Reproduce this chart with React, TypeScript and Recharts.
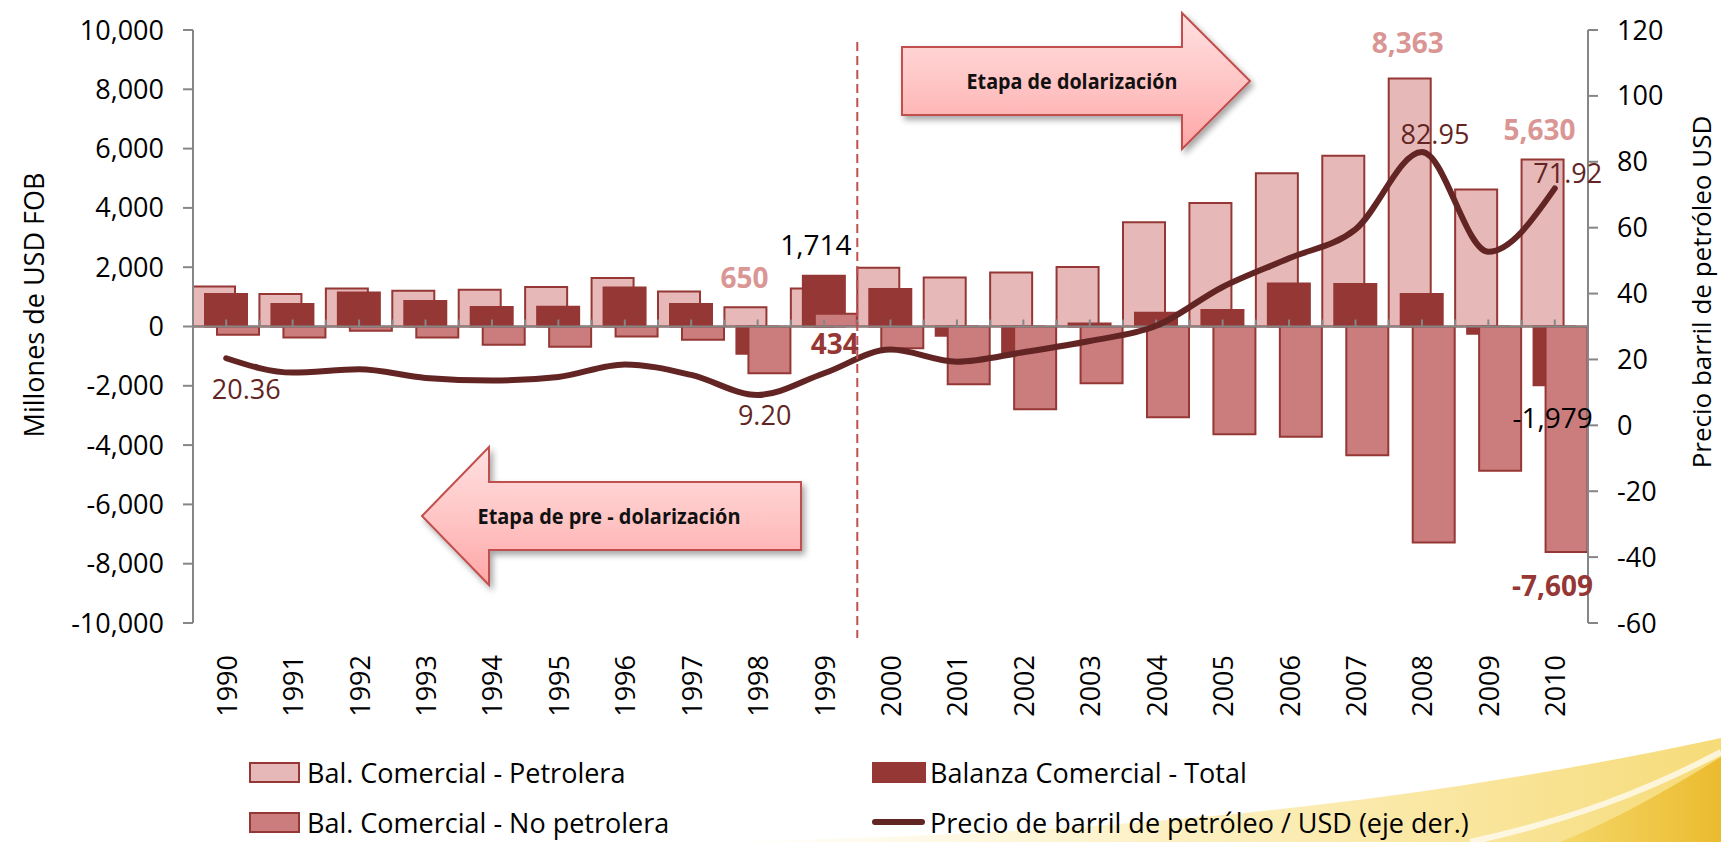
import React from 'react';
import { ComposedChart, Bar, Line, XAxis, YAxis, ReferenceLine, LabelList } from 'recharts';

// ---------- data ----------
const years = ['1990', '1991', '1992', '1993', '1994', '1995', '1996', '1997', '1998', '1999', '2000',
  '2001', '2002', '2003', '2004', '2005', '2006', '2007', '2008', '2009', '2010'];
const petrolera = [1350, 1100, 1284, 1206, 1240, 1331, 1635, 1182, 650, 1280, 1983,
  1655, 1824, 2007, 3514, 4169, 5169, 5757, 8363, 4618, 5630];
const balanzaTotal = [1095, 757, 1149, 858, 655, 666, 1318, 757, -922, 1714, 1264,
  -314, -899, 101, 463, 554, 1453, 1432, 1095, -247, -1979];
const noPetrolera = [-280, -370, -145, -370, -618, -680, -338, -449, -1574, 434, -730,
  -1946, -2791, -1912, -3061, -3635, -3716, -4345, -7284, -4865, -7609];
const oilPrice = [20.36, 16.0, 17.0, 14.4, 13.6, 14.7, 18.5, 15.3, 9.2, 15.8, 23.0,
  19.3, 22.2, 25.6, 30.2, 42.0, 50.7, 59.5, 82.95, 52.7, 71.92];
const leftTicks = [-10000, -8000, -6000, -4000, -2000, 0, 2000, 4000, 6000, 8000, 10000];
const rightTicks = [-60, -40, -20, 0, 20, 40, 60, 80, 100, 120];

const petroleraLabelYears = ['1998', '2008', '2010'];
const totalLabelYears = ['1999', '2010'];
const noPetroleraLabelYears = ['1999', '2010'];
const oilLabelYears = ['1990', '1998', '2008', '2010'];

const seriesNames = {
  petrolera: 'Bal. Comercial - Petrolera',
  total: 'Balanza Comercial - Total',
  noPetrolera: 'Bal. Comercial - No petrolera',
  oil: 'Precio de barril de petróleo / USD (eje der.)',
};

const data = years.map((year, i) => ({
  year,
  petrolera: petrolera[i],
  total: balanzaTotal[i],
  noPetrolera: noPetrolera[i],
  oil: oilPrice[i],
  lblPet: petroleraLabelYears.includes(year) ? year : undefined,
  lblTot: totalLabelYears.includes(year) ? year : undefined,
  lblNoPet: noPetroleraLabelYears.includes(year) ? year : undefined,
  lblOil: oilLabelYears.includes(year) ? year : undefined,
}));

// ---------- styles ----------
const FONT = "'Open Sans', 'Noto Sans', sans-serif";
const W = 1721;
const H = 842;
const PLOT_LEFT = 193;
const PLOT_RIGHT = 1588;
const PLOT_TOP = 30;
const PLOT_BOTTOM = 623;
const X_AXIS_H = 120;
const AXIS_GRAY = '#868686';
const C_PET = '#E6B9B8';
const C_TOT = '#953735';
const C_NOPET = '#CA7D7C';
const C_EDGE = '#953735';
const C_OIL = '#632523';

const fmtInt = (v: number) => v.toLocaleString('en-US');

type Spec = { anchor: 'top' | 'bottom' | 'point'; dx: number; dy: number; color: string; bold?: boolean; size: number };

const petSpecs: Record<string, Spec> = {
  '1998': { anchor: 'top', dx: -1, dy: -30, color: '#DA9694', bold: true, size: 28 },
  '2008': { anchor: 'top', dx: -2, dy: -37, color: '#DA9694', bold: true, size: 28 },
  '2010': { anchor: 'top', dx: -3, dy: -31, color: '#DA9694', bold: true, size: 28 },
};
const totSpecs: Record<string, Spec> = {
  '1999': { anchor: 'top', dx: -8, dy: -32, color: '#000000', size: 28 },
  '2010': { anchor: 'bottom', dx: -2, dy: 32, color: '#000000', size: 28 },
};
const noPetSpecs: Record<string, Spec> = {
  '1999': { anchor: 'bottom', dx: -1, dy: 16, color: '#953735', bold: true, size: 28 },
  '2010': { anchor: 'bottom', dx: -14, dy: 33, color: '#953735', bold: true, size: 28 },
};
const oilSpecs: Record<string, Spec> = {
  '1990': { anchor: 'point', dx: 20, dy: 30, color: C_OIL, size: 27 },
  '1998': { anchor: 'point', dx: 7, dy: 19, color: C_OIL, size: 27 },
  '2008': { anchor: 'point', dx: 13, dy: -19, color: C_OIL, size: 27 },
  '2010': { anchor: 'point', dx: 13, dy: -16, color: C_OIL, size: 27 },
};

const makeLabel = (specs: Record<string, Spec>, values: number[], fmt: (v: number) => string) => (props: any) => {
  const { x, y, width, height, value } = props;
  if (value == null) return null;
  const spec = specs[String(value)];
  if (!spec) return null;
  const idx = years.indexOf(String(value));
  const w = Number(width) || 0;
  const h = Number(height) || 0;
  const top = Math.min(Number(y), Number(y) + h);
  const bottom = Math.max(Number(y), Number(y) + h);
  const cx = Number(x) + w / 2;
  const baseY = spec.anchor === 'top' ? top : spec.anchor === 'bottom' ? bottom : Number(y);
  return (
    <text x={cx + spec.dx} y={baseY + spec.dy} textAnchor="middle" dominantBaseline="central"
      fontFamily={FONT} fontSize={spec.size} fontWeight={spec.bold ? 700 : 400} fill={spec.color}>
      {fmt(values[idx])}
    </text>
  );
};

const YearTick = (props: any) => {
  const { x, y, payload } = props;
  return (
    <text x={x} y={y} transform={`rotate(-90, ${x}, ${y})`} textAnchor="end" dominantBaseline="central"
      fontSize={27} fill="#000" fontFamily={FONT}>
      {payload.value}
    </text>
  );
};

const ZeroAxis = (props: any) => {
  const { x1, y1, x2, y2 } = props;
  const n = years.length * 2;
  const step = (x2 - x1) / n;
  const marks = [];
  for (let k = 1; k < n; k++) {
    const mx = x1 + k * step;
    marks.push(<line key={k} x1={mx} x2={mx} y1={y1 - 7} y2={y1} stroke={AXIS_GRAY} strokeWidth={2} />);
  }
  return (
    <g>
      <line x1={x1} y1={y1} x2={x2} y2={y2} stroke={AXIS_GRAY} strokeWidth={2} />
      {marks}
    </g>
  );
};

const band = (PLOT_RIGHT - PLOT_LEFT) / years.length;
const dividerX = PLOT_LEFT + years.indexOf('2000') * band;

const Background = () => (
  <svg width={W} height={H} style={{ position: 'absolute', left: 0, top: 0 }}>
    <defs>
      <linearGradient id="paleSwoosh" x1="0" y1="0" x2="1" y2="0">
        <stop offset="0" stopColor="#FDF3C8" stopOpacity={0} />
        <stop offset="0.45" stopColor="#FCEDB5" stopOpacity={0.8} />
        <stop offset="1" stopColor="#F6DB78" stopOpacity={1} />
      </linearGradient>
      <linearGradient id="goldSwoosh" x1="0" y1="0" x2="1" y2="0">
        <stop offset="0" stopColor="#F5D76A" />
        <stop offset="1" stopColor="#EBBB2E" />
      </linearGradient>
    </defs>
    <path d="M 700 842 C 1000 836, 1330 822, 1721 738 L 1721 842 Z" fill="url(#paleSwoosh)" />
    <path d="M 1560 842 C 1620 818, 1670 788, 1721 757 L 1721 842 Z" fill="url(#goldSwoosh)" />
    <path d="M 1470 842 C 1570 820, 1645 792, 1721 752" fill="none" stroke="#FFFFFF" strokeOpacity={0.7} strokeWidth={6} />
  </svg>
);

const Overlay = () => (
  <svg width={W} height={H} style={{ position: 'absolute', left: 0, top: 0, pointerEvents: 'none' }}>
    <defs>
      <linearGradient id="arrowFill" x1="0" y1="0" x2="0" y2="1">
        <stop offset="0" stopColor="#FFE0E0" />
        <stop offset="0.5" stopColor="#FFC6C6" />
        <stop offset="1" stopColor="#FFA6A6" />
      </linearGradient>
      <filter id="shadow" x="-10%" y="-20%" width="130%" height="150%">
        <feDropShadow dx="3" dy="4" stdDeviation="3" floodColor="#000" floodOpacity="0.35" />
      </filter>
    </defs>
    {/* divider */}
    <line x1={dividerX} x2={dividerX} y1={42} y2={638} stroke="#C0504D" strokeWidth={2} strokeDasharray="9 5" />
    {/* arrows */}
    <path d="M 902 47 L 1182 47 L 1182 13 L 1250 81 L 1182 149 L 1182 115 L 902 115 Z"
      fill="url(#arrowFill)" stroke="#C0504D" strokeWidth={2} filter="url(#shadow)" />
    <text x={1072} y={81} textAnchor="middle" dominantBaseline="central" fontFamily="'Liberation Sans Narrow', 'Open Sans', sans-serif"
      fontWeight={700} fontSize={21} fill="#111" textLength={211} lengthAdjust="spacingAndGlyphs">Etapa de dolarización</text>
    <path d="M 422 516 L 489 447 L 489 482 L 801 482 L 801 550 L 489 550 L 489 585 Z"
      fill="url(#arrowFill)" stroke="#C0504D" strokeWidth={2} filter="url(#shadow)" />
    <text x={609} y={516} textAnchor="middle" dominantBaseline="central" fontFamily="'Liberation Sans Narrow', 'Open Sans', sans-serif"
      fontWeight={700} fontSize={21} fill="#111" textLength={263} lengthAdjust="spacingAndGlyphs">Etapa de pre - dolarización</text>
    {/* axis titles */}
    <text x={33} y={305} transform="rotate(-90, 33, 305)" textAnchor="middle" dominantBaseline="central"
      fontFamily={FONT} fontSize={27} fill="#000">Millones de USD FOB</text>
    <text x={1701} y={292} transform="rotate(-90, 1701, 292)" textAnchor="middle" dominantBaseline="central"
      fontFamily={FONT} fontSize={26} fill="#000">Precio barril de petróleo USD</text>
    {/* legend */}
    <g fontFamily={FONT} fontSize={27} fill="#000">
      <rect x={250} y={763} width={49} height={19} fill={C_PET} stroke={C_EDGE} strokeWidth={2} />
      <text x={307} y={772} dominantBaseline="central">{seriesNames.petrolera}</text>
      <rect x={873} y={763} width={52} height={19} fill={C_TOT} stroke={C_EDGE} strokeWidth={2} />
      <text x={930} y={772} dominantBaseline="central">{seriesNames.total}</text>
      <rect x={250} y={813} width={49} height={19} fill={C_NOPET} stroke={C_EDGE} strokeWidth={2} />
      <text x={307} y={822} dominantBaseline="central">{seriesNames.noPetrolera}</text>
      <line x1={875} x2={922} y1={822} y2={822} stroke={C_OIL} strokeWidth={6} strokeLinecap="round" />
      <text x={930} y={822} dominantBaseline="central">{seriesNames.oil}</text>
    </g>
  </svg>
);

export default function App() {
  return (
    <div style={{ position: 'absolute', left: 0, top: 0, width: W, height: H, background: '#FFFFFF', overflow: 'hidden', fontFamily: FONT }}>
      <Background />
      <div style={{ position: 'absolute', left: 0, top: 0 }}>
        <ComposedChart
          width={W}
          height={H}
          data={data}
          margin={{ top: PLOT_TOP, right: 0, left: 0, bottom: H - PLOT_BOTTOM - X_AXIS_H }}
          barGap={-30}
          barCategoryGap={0}
        >
          <XAxis dataKey="year" axisLine={false} tickLine={false} tickSize={0} tickMargin={32}
            interval={0} height={X_AXIS_H} tick={YearTick} />
          <YAxis yAxisId="left" orientation="left" width={PLOT_LEFT} domain={[-10000, 10000]} ticks={leftTicks}
            allowDataOverflow tickFormatter={fmtInt} tickSize={10} tickMargin={19}
            axisLine={{ stroke: AXIS_GRAY, strokeWidth: 2 }} tickLine={{ stroke: AXIS_GRAY, strokeWidth: 2 }}
            tick={{ fontSize: 27, fill: '#000', fontFamily: FONT }} />
          <YAxis yAxisId="right" orientation="right" width={W - PLOT_RIGHT} domain={[-60, 120]} ticks={rightTicks}
            allowDataOverflow tickSize={10} tickMargin={19}
            axisLine={{ stroke: AXIS_GRAY, strokeWidth: 2 }} tickLine={{ stroke: AXIS_GRAY, strokeWidth: 2 }}
            tick={{ fontSize: 27, fill: '#000', fontFamily: FONT }} />
          <Bar yAxisId="left" dataKey="petrolera" name={seriesNames.petrolera} fill={C_PET} stroke={C_EDGE}
            strokeWidth={2} barSize={42} isAnimationActive={false}>
            <LabelList dataKey="lblPet" content={makeLabel(petSpecs, petrolera, fmtInt)} />
          </Bar>
          <Bar yAxisId="left" dataKey="total" name={seriesNames.total} fill={C_TOT} stroke={C_EDGE}
            strokeWidth={2} barSize={42} isAnimationActive={false}>
            <LabelList dataKey="lblTot" content={makeLabel(totSpecs, balanzaTotal, fmtInt)} />
          </Bar>
          <Bar yAxisId="left" dataKey="noPetrolera" name={seriesNames.noPetrolera} fill={C_NOPET} stroke={C_EDGE}
            strokeWidth={2} barSize={42} isAnimationActive={false}>
            <LabelList dataKey="lblNoPet" content={makeLabel(noPetSpecs, noPetrolera, fmtInt)} />
          </Bar>
          <ReferenceLine yAxisId="left" y={0} shape={ZeroAxis} />
          <Line yAxisId="right" type="monotone" dataKey="oil" name={seriesNames.oil} stroke={C_OIL} strokeWidth={6}
            strokeLinecap="round" dot={false} activeDot={false} isAnimationActive={false}>
            <LabelList dataKey="lblOil" content={makeLabel(oilSpecs, oilPrice, (v) => v.toFixed(2))} />
          </Line>
        </ComposedChart>
      </div>
      <Overlay />
    </div>
  );
}
